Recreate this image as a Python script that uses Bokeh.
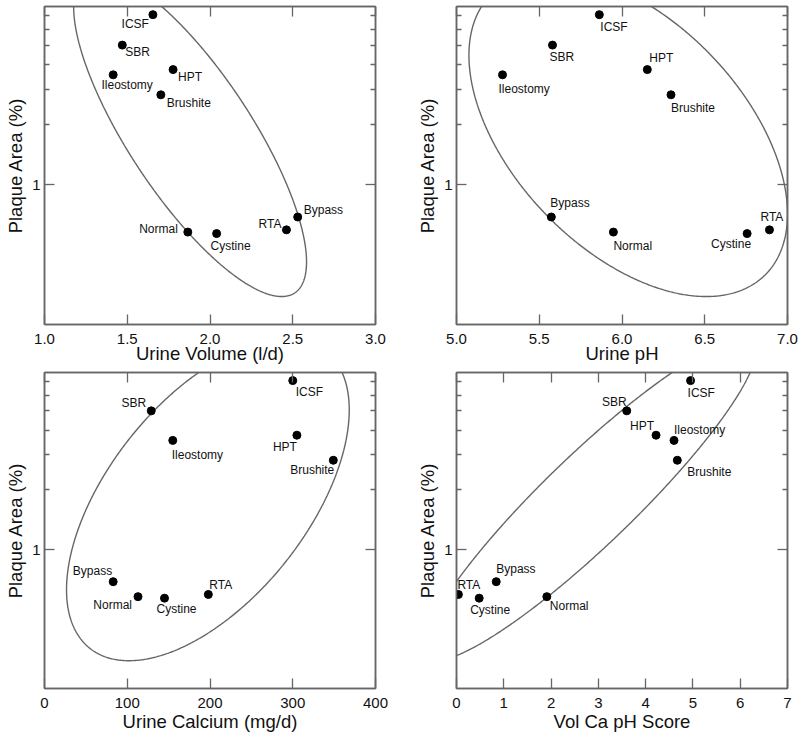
import numpy as np
from bokeh.plotting import figure
from bokeh.models import Range1d, FixedTicker, LinearAxis, LogAxis, PrintfTickFormatter, ColumnDataSource
from bokeh.layouts import gridplot
from bokeh.embed import file_html
from bokeh.resources import INLINE
from bokeh.core.properties import value

# ---------------- data ----------------
groups = ["ICSF", "SBR", "Ileostomy", "HPT", "Brushite", "Normal", "Cystine", "RTA", "Bypass"]
plaque_area = [7.1, 5.0, 3.55, 3.77, 2.82, 0.58, 0.57, 0.595, 0.69]
urine_volume = [1.655, 1.47, 1.415, 1.777, 1.703, 1.866, 2.04, 2.462, 2.53]
urine_ph = [5.863, 5.58, 5.278, 6.153, 6.296, 5.948, 6.756, 6.891, 5.573]
urine_calcium = [300, 129, 155, 305, 349, 113, 145, 198, 83]
vol_ca_ph_score = [4.95, 3.6, 4.6, 4.22, 4.67, 1.91, 0.48, 0.04, 0.84]

vol_ticks = [1.0, 1.5, 2.0, 2.5, 3.0]
ph_ticks = [5.0, 5.5, 6.0, 6.5, 7.0]
ca_ticks = [0, 100, 200, 300, 400]
score_ticks = [0, 1, 2, 3, 4, 5, 6, 7]
y_major = [1]
y_minor = [2, 3, 4, 5, 6, 7]

# label placement (style): align, dx, dy (screen px, +down)
lab_vol = [("right", -4, 9), ("left", 3, 7), ("center", 14, 10), ("left", 5, 7), ("left", 6, 8),
           ("right", -10, -3), ("center", 14, 12), ("right", -5, -6), ("left", 6, -7)]
lab_ph = [("left", 1, 12), ("left", -3, 12), ("left", -4, 14), ("left", 2, -12), ("left", 0, 13),
          ("left", 0, 14), ("right", 4, 10), ("left", -9, -13), ("left", -1, -14)]
lab_ca = [("left", 3, 11), ("right", -5, -8), ("left", -1, 15), ("right", 0, 12), ("right", 1, 10),
          ("right", -6, 8), ("left", -8, 11), ("left", 1, -9), ("right", -1, -11)]
lab_score = [("left", -3, 12), ("right", 0, -9), ("left", 0, -10), ("right", -2, -9), ("left", 10, 12),
             ("left", 3, 9), ("left", -9, 12), ("left", -1, -9), ("left", 0, -13)]

FONT = "Liberation Sans"
GRAY = "#666666"
K = 1.77


def conf_ellipse(x, y, k=K, n=721):
    x = np.asarray(x, float)
    ly = np.log10(np.asarray(y, float))
    cov = np.cov(np.vstack([x, ly]))
    vals, vecs = np.linalg.eigh(cov)
    t = np.linspace(0, 2 * np.pi, n)
    circ = np.vstack([np.cos(t), np.sin(t)]) * (k * np.sqrt(vals))[:, None]
    pts = vecs @ circ
    return x.mean() + pts[0], 10 ** (ly.mean() + pts[1])


def make_panel(xv, xlabel, xr, xt, xfmt, labs, width, height, bl, br, bb, title_standoff):
    p = figure(width=width, height=height, x_range=Range1d(*xr), y_range=Range1d(0.2, 7.8),
               y_axis_type="log", output_backend="svg", toolbar_location=None,
               min_border_left=bl, min_border_right=br, min_border_top=6, min_border_bottom=bb)
    p.xgrid.grid_line_color = None
    p.ygrid.grid_line_color = None
    p.outline_line_color = GRAY
    p.outline_line_width = 1.5
    p.background_fill_color = "white"
    p.border_fill_color = "white"

    xa = p.xaxis[0]
    xa.ticker = FixedTicker(ticks=xt)
    xa.formatter = PrintfTickFormatter(format=xfmt)
    xa.axis_label = xlabel
    ya = p.yaxis[0]
    ya.ticker = FixedTicker(ticks=y_major, minor_ticks=y_minor)
    ya.formatter = PrintfTickFormatter(format="%d")
    ya.axis_label = "Plaque Area (%)"

    top = LinearAxis(ticker=FixedTicker(ticks=xt))
    right = LogAxis(ticker=FixedTicker(ticks=y_major, minor_ticks=y_minor))
    for ax in (top, right):
        ax.major_label_text_font_size = "1px"
        ax.major_label_text_color = None
        ax.major_label_standoff = 0
        ax.axis_label_standoff = 0
    p.add_layout(top, "above")
    p.add_layout(right, "right")

    for ax in (xa, ya, top, right):
        ax.axis_line_color = GRAY
        ax.axis_line_width = 1.5
        ax.major_tick_line_color = GRAY
        ax.major_tick_line_width = 1.3
        ax.minor_tick_line_color = GRAY
        ax.minor_tick_line_width = 1.3
        ax.major_tick_in = 10
        ax.major_tick_out = 0
        ax.minor_tick_in = 5
        ax.minor_tick_out = 0
    for ax in (xa, top):
        ax.minor_tick_line_color = None
    for ax in (xa, ya):
        ax.major_label_text_font = FONT
        ax.major_label_text_font_size = "15px"
        ax.major_label_text_color = "#111111"
        ax.axis_label_text_font = FONT
        ax.axis_label_text_font_size = "18.5px"
        ax.axis_label_text_font_style = "normal"
        ax.axis_label_text_color = "#111111"
    xa.major_label_standoff = 9
    xa.axis_label_standoff = title_standoff
    ya.major_label_standoff = 4
    ya.axis_label_standoff = 3

    ex, ey = conf_ellipse(xv, plaque_area)
    p.line(ex, ey, line_color=GRAY, line_width=1.4)

    src = ColumnDataSource(dict(x=xv, y=plaque_area, name=groups,
                                align=[l[0] for l in labs],
                                dx=[l[1] for l in labs],
                                dy=[l[2] for l in labs]))
    p.scatter("x", "y", source=src, size=8, fill_color="black", line_color="black")
    p.text("x", "y", text="name", source=src, text_align="align", x_offset="dx", y_offset="dy",
           text_baseline="middle", text_font=value(FONT), text_font_size="12px", text_color="#111111")
    return p


p1 = make_panel(urine_volume, "Urine Volume (l/d)", (1.0, 3.0), vol_ticks, "%.1f", lab_vol, 400, 366, 44, 25, 42, -4)
p2 = make_panel(urine_ph, "Urine pH", (5.0, 7.0), ph_ticks, "%.1f", lab_ph, 400, 366, 56, 13, 42, -4)
p3 = make_panel(urine_calcium, "Urine Calcium (mg/d)", (0, 400), ca_ticks, "%d", lab_ca, 400, 368, 44, 25, 45, 0)
p4 = make_panel(vol_ca_ph_score, "Vol Ca pH Score", (0, 7), score_ticks, "%d", lab_score, 400, 368, 56, 13, 45, 0)

grid = gridplot([[p1, p2], [p3, p4]], toolbar_location=None)
open("out.html", "w").write(file_html(grid, INLINE))
